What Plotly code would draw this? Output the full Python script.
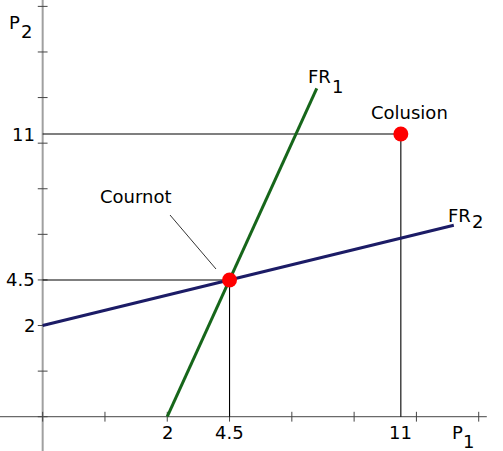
import plotly.graph_objects as go

# Sketch coordinates (tick marks are one unit apart)
x_ticks = [0, 1, 2, 3, 4, 5, 6, 7]
y_ticks = [0, 1, 2, 3, 4, 5, 6, 7, 8, 9]

# Labelled values on the axes
x_label_text = ["2", "4.5", "11"]
x_label_pos = [2, 3, 5.75]
y_label_text = ["11", "4.5", "2"]
y_label_pos = [6.2, 3, 2]

# Reaction functions
fr1_x = [2, 4.4]
fr1_y = [0, 7.2]
fr2_x = [0, 6.6]
fr2_y = [2, 4.2]

# Equilibria
cournot = (3, 3)
colusion = (5.75, 6.2)

W, H = 503, 451
X_MIN, X_MAX = -0.685, 7.39
Y_MIN, Y_MAX = -0.752, 9.14
FONT = "DejaVu Sans"


def px_to_data(px, py):
    return (X_MIN + px / W * (X_MAX - X_MIN), Y_MAX - py / H * (Y_MAX - Y_MIN))


fig = go.Figure()

# axes
fig.add_trace(go.Scatter(x=[X_MIN, 7.13], y=[0, 0], mode="lines",
                         line=dict(color="#444444", width=1), hoverinfo="skip"))
fig.add_trace(go.Scatter(x=[0, 0], y=[Y_MIN, Y_MAX], mode="lines",
                         line=dict(color="#a0a0a0", width=2), hoverinfo="skip"))
# tick marks
fig.add_trace(go.Scatter(x=x_ticks, y=[0] * len(x_ticks), mode="markers",
                         marker=dict(symbol="line-ns", size=7,
                                     line=dict(color="#444444", width=1)),
                         hoverinfo="skip"))
fig.add_trace(go.Scatter(x=[0] * len(y_ticks), y=y_ticks, mode="markers",
                         marker=dict(symbol="line-ew", size=7,
                                     line=dict(color="#444444", width=1)),
                         hoverinfo="skip"))

# guide lines
for px, py in (cournot, colusion):
    fig.add_trace(go.Scatter(x=[0, px, px], y=[py, py, 0], mode="lines",
                             line=dict(color="black", width=1.1), hoverinfo="skip"))

# reaction functions
fig.add_trace(go.Scatter(x=fr1_x, y=fr1_y, mode="lines",
                         line=dict(color="#16661a", width=3)))
fig.add_trace(go.Scatter(x=fr2_x, y=fr2_y, mode="lines",
                         line=dict(color="#1c1c66", width=3)))

# Cournot leader line
(lx0, ly0), (lx1, ly1) = px_to_data(170, 215), px_to_data(216, 269)
fig.add_trace(go.Scatter(x=[lx0, lx1], y=[ly0, ly1], mode="lines",
                         line=dict(color="black", width=0.8), hoverinfo="skip"))

# points
fig.add_trace(go.Scatter(x=[cournot[0], colusion[0]], y=[cournot[1], colusion[1]],
                         mode="markers", marker=dict(color="#ff0000", size=15)))

tick_font = dict(family=FONT, size=18, color="black")
word_font = dict(family=FONT, size=18, color="black")
ann = []
for t, p in zip(x_label_text, x_label_pos):
    ann.append(dict(x=p, y=0, text=t, showarrow=False, xanchor="center",
                    yanchor="middle", yshift=-16, font=tick_font))
for t, p in zip(y_label_text, y_label_pos):
    ann.append(dict(x=0, y=p, text=t, showarrow=False, xanchor="right",
                    yanchor="middle", xshift=-6, font=tick_font))


def paper_text(text, cx, cy, font):
    ann.append(dict(x=cx / W, y=1 - cy / H, xref="paper", yref="paper", text=text,
                    showarrow=False, xanchor="center", yanchor="middle", font=font))


# labels with full-size subscripts
paper_text("P", 14, 22, tick_font)
paper_text("2", 26, 32, tick_font)
paper_text("P", 457.5, 432.5, tick_font)
paper_text("1", 468.5, 441.5, tick_font)
paper_text("FR", 319, 76.5, word_font)
paper_text("1", 337, 86.5, word_font)
paper_text("FR", 459, 215, word_font)
paper_text("2", 477, 221.5, word_font)
paper_text("Colusion", 409, 113, word_font)
paper_text("Cournot", 136, 196, word_font)

fig.update_layout(
    width=W, height=H,
    margin=dict(l=0, r=0, t=0, b=0),
    plot_bgcolor="white", paper_bgcolor="white",
    showlegend=False,
    xaxis=dict(range=[X_MIN, X_MAX], visible=False),
    yaxis=dict(range=[Y_MIN, Y_MAX], visible=False),
    annotations=ann,
)

fig.write_html("out.html", config={"displayModeBar": False},
               post_script="document.body.style.margin='0';")
